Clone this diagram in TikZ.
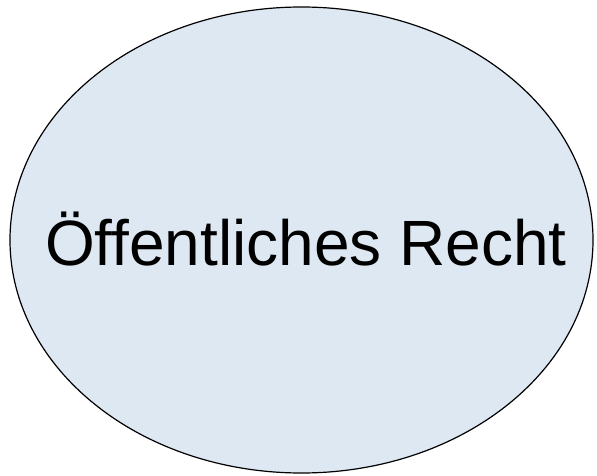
\documentclass[tikz,border=0pt]{standalone}
\usepackage{fontspec}
\setmainfont{Liberation Sans}
\definecolor{ellfill}{RGB}{222,232,243}
\begin{document}
\begin{tikzpicture}[x=1pt,y=1pt,
  ellbox/.style={draw=black,line width=1.2pt,fill=ellfill}]
\useasboundingbox (0,0) rectangle (597,475);
\draw[ellbox] (301.5,235) ellipse [x radius=291.5, y radius=233];
\node[anchor=base,inner sep=0pt,font=\fontsize{64}{70}\selectfont] (lbl) at (306,210) {Öffentliches Recht};
\end{tikzpicture}
\end{document}
